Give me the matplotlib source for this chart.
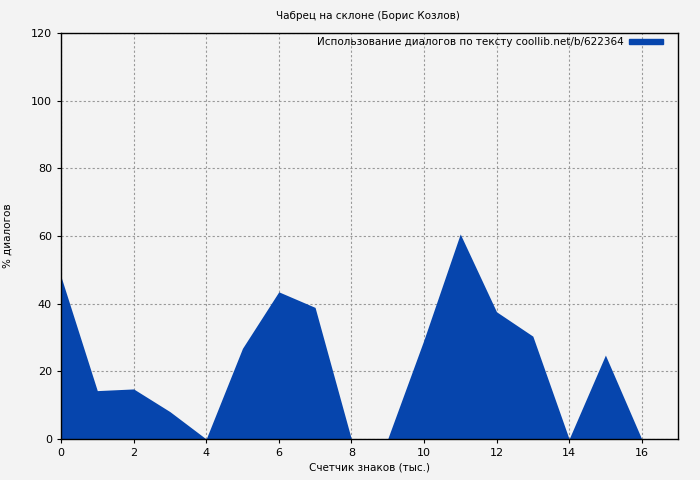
import matplotlib
matplotlib.use("Agg")
import matplotlib.pyplot as plt
from matplotlib.patches import Patch

x = list(range(17))
y = [48.0, 14.3, 14.8, 8.1, 0.0, 26.8, 43.5, 38.9, 0.0, 0.0, 29.3, 60.6, 37.6, 30.4, 0.0, 24.8, 0.0]

title = "Чабрец на склоне (Борис Козлов)"
legend_label = "Использование диалогов по тексту coollib.net/b/622364"
xlabel = "Счетчик знаков (тыс.)"
ylabel = "% диалогов"

bg = "#f3f3f3"
fill = "#0645ad"

fig = plt.figure(figsize=(7, 4.8), dpi=100, facecolor=bg)
ax = fig.add_axes([61/700, 1-439/480, (678-61)/700, (439-33)/480])
ax.set_facecolor(bg)
ax.fill_between(x, y, 0, color=fill, linewidth=0, zorder=2)
ax.set_xlim(0, 17)
ax.set_ylim(0, 120)
ax.set_xticks(range(0, 17, 2))
ax.set_yticks(range(0, 121, 20))
ax.set_axisbelow(True)
ax.grid(True, color="#999999", linestyle=(0, (2, 2)), linewidth=0.8)
ax.tick_params(labelsize=8, length=3)
ax.set_xlabel(xlabel, fontsize=7.5, labelpad=3)
ax.set_ylabel(ylabel, fontsize=7.5)
ax.yaxis.set_label_coords(-48/617, 0.5)
fig.text(368/700, 1-16/480, title, fontsize=7.5, ha="center", va="center")
h = Patch(color=fill)
leg = ax.legend([h], [legend_label], loc="upper right", frameon=False, fontsize=7.5,
                markerfirst=False, handlelength=3.2, handleheight=0.35,
                bbox_to_anchor=(1 - 8/617, 1 + 3/406), borderaxespad=0.3, handletextpad=0.55)
for s in ax.spines.values():
    s.set_linewidth(1)
    s.set_zorder(5)
fig.savefig("out.png", dpi=100, facecolor=bg)
